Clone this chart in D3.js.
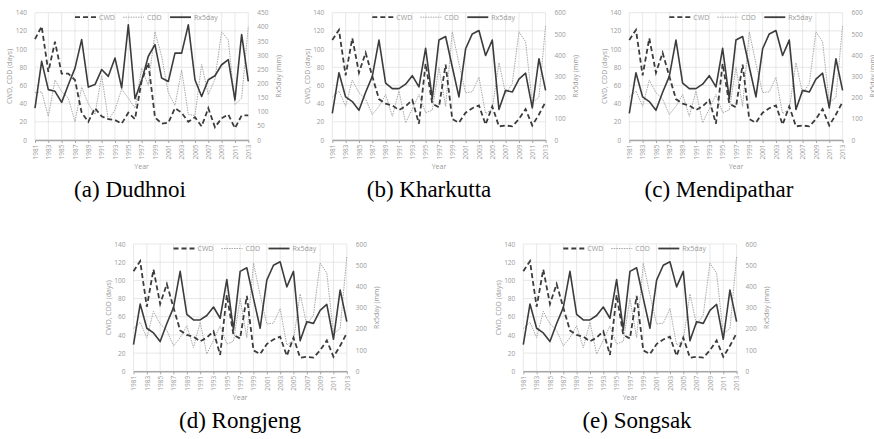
<!DOCTYPE html>
<html>
<head>
<meta charset="utf-8">
<script src="https://cdn.jsdelivr.net/npm/d3@7"></script>
<style>
  body { margin: 0; background: #fff; }
  svg { display: block; }
</style>
</head>
<body>
<script>
// categories
const years = [1981, 1982, 1983, 1984, 1985, 1986, 1987, 1988, 1989, 1990, 1991,
  1992, 1993, 1994, 1995, 1996, 1997, 1998, 1999, 2000, 2001, 2002, 2003, 2004,
  2005, 2006, 2007, 2008, 2009, 2010, 2011, 2012, 2013];
const yearTicks = [1981, 1983, 1985, 1987, 1989, 1991, 1993, 1995, 1997, 1999,
  2001, 2003, 2005, 2007, 2009, 2011, 2013];
const daysTicks = [0, 20, 40, 60, 80, 100, 120, 140];
const rxTicksA = [0, 50, 100, 150, 200, 250, 300, 350, 400, 450];
const rxTicksB = [0, 100, 200, 300, 400, 500, 600];

// (a) Dudhnoi
const cwdDudhnoi = [111, 125, 75, 108, 73, 73, 66, 30, 20, 35, 26, 23, 22, 18, 30, 23,
  65, 85, 25, 18, 19, 35, 30, 20, 25, 15, 35, 14, 24, 28, 13, 27, 27];
const cddDudhnoi = [52, 53, 26, 66, 53, 46, 20, 58, 40, 28, 71, 22, 33, 56, 46, 35,
  79, 60, 119, 92, 52, 38, 77, 28, 27, 83, 50, 67, 119, 110, 39, 46, 125];
const rxDudhnoi = [113, 278, 178, 172, 133, 195, 254, 355, 187, 196, 249, 225, 290, 184,
  407, 146, 210, 296, 337, 219, 207, 307, 307, 407, 213, 154, 213, 227, 266, 284, 142, 373, 207];

// (b)-(e) the four other stations show the same curves in the figure
const cwdOther = [110, 121, 71, 112, 74, 96, 70, 45, 40, 38, 33, 37, 44, 18, 84, 40,
  36, 83, 23, 19, 30, 35, 38, 17, 37, 15, 16, 15, 23, 34, 16, 28, 42];
const cddOther = [47, 54, 37, 66, 52, 45, 28, 37, 50, 26, 54, 19, 34, 50, 30, 33,
  80, 37, 119, 84, 52, 53, 69, 29, 34, 85, 51, 62, 119, 108, 41, 47, 126];
const rxOther = [126, 317, 203, 181, 140, 225, 300, 471, 268, 242, 242, 263, 303, 250,
  432, 195, 471, 488, 344, 203, 430, 500, 516, 398, 471, 144, 234, 226, 287, 315, 151, 383, 234];

const W = 874, H = 439;
const plotW = 213.3, plotH = 127.3;
const labelColor = "#9a9a9a";
const lineDark = "#3c3c3c";
const lineLight = "#a8a8a8";
const smallFont = "6.5px 'Open Sans', sans-serif";

const svg = d3.select("body").append("svg")
  .attr("width", W)
  .attr("height", H);

const panels = [
  { x0: 35, top: 12.7, caption: "(a) Dudhnoi", capX: 130, capY: 197,
    cwd: cwdDudhnoi, cdd: cddDudhnoi, rx: rxDudhnoi, rxMax: 450, rxTicks: rxTicksA },
  { x0: 332.3, top: 12.7, caption: "(b) Kharkutta", capX: 429, capY: 197,
    cwd: cwdOther, cdd: cddOther, rx: rxOther, rxMax: 600, rxTicks: rxTicksB },
  { x0: 629.3, top: 12.7, caption: "(c) Mendipathar", capX: 719, capY: 197,
    cwd: cwdOther, cdd: cddOther, rx: rxOther, rxMax: 600, rxTicks: rxTicksB },
  { x0: 133.5, top: 244, caption: "(d) Rongjeng", capX: 240, capY: 428,
    cwd: cwdOther, cdd: cddOther, rx: rxOther, rxMax: 600, rxTicks: rxTicksB },
  { x0: 523.3, top: 244, caption: "(e) Songsak", capX: 637, capY: 428,
    cwd: cwdOther, cdd: cddOther, rx: rxOther, rxMax: 600, rxTicks: rxTicksB }
];

panels.forEach(p => drawPanel(p));

function drawPanel(p) {
  const g = svg.append("g")
    .attr("transform", `translate(${p.x0}, ${p.top})`);

  const xScale = d3.scaleLinear([years[0], years[years.length - 1]], [0, plotW]);
  const yLeft = d3.scaleLinear([0, 140], [plotH, 0]);
  const yRight = d3.scaleLinear([0, p.rxMax], [plotH, 0]);

  // grid
  g.append("g")
    .selectAll("line")
    .data(daysTicks)
    .join("line")
    .attr("x1", 0).attr("x2", plotW)
    .attr("y1", d => yLeft(d)).attr("y2", d => yLeft(d))
    .attr("stroke", "#dedede")
    .attr("stroke-width", 0.7);
  g.append("g")
    .selectAll("line")
    .data(yearTicks)
    .join("line")
    .attr("x1", d => xScale(d)).attr("x2", d => xScale(d))
    .attr("y1", 0).attr("y2", plotH)
    .attr("stroke", "#dedede")
    .attr("stroke-width", 0.7);

  // x axis
  const xAxis = g.append("g")
    .attr("transform", `translate(0, ${plotH})`)
    .call(d3.axisBottom(xScale).tickValues(yearTicks).tickFormat(d3.format("d"))
      .tickSize(3).tickSizeOuter(0));
  xAxis.select(".domain").attr("stroke", "#a6a6a6").attr("stroke-width", 1.6);
  xAxis.selectAll(".tick line").attr("stroke", "#a6a6a6");
  xAxis.selectAll("text")
    .attr("transform", "rotate(-90)")
    .attr("text-anchor", "end")
    .attr("x", -4.5)
    .attr("y", 0)
    .attr("dy", "0.35em")
    .attr("fill", labelColor)
    .style("font", smallFont);

  // left axis
  const lAxis = g.append("g")
    .call(d3.axisLeft(yLeft).tickValues(daysTicks).tickSize(0).tickPadding(8));
  lAxis.select(".domain").remove();
  lAxis.selectAll("text")
    .attr("fill", labelColor)
    .style("font", smallFont);

  // right axis
  const rAxis = g.append("g")
    .attr("transform", `translate(${plotW}, 0)`)
    .call(d3.axisRight(yRight).tickValues(p.rxTicks).tickSize(0).tickPadding(9));
  rAxis.select(".domain").remove();
  rAxis.selectAll("text")
    .attr("fill", labelColor)
    .style("font", smallFont);

  // axis titles
  g.append("text")
    .attr("transform", `translate(-25, ${plotH / 2}) rotate(-90)`)
    .attr("text-anchor", "middle")
    .attr("dy", "0.35em")
    .attr("fill", labelColor)
    .style("font", "7px 'Open Sans', sans-serif")
    .text("CWD, CDD (days)");
  g.append("text")
    .attr("transform", `translate(${plotW + 30}, ${plotH / 2}) rotate(-90)`)
    .attr("text-anchor", "middle")
    .attr("dy", "0.35em")
    .attr("fill", labelColor)
    .style("font", "7px 'Open Sans', sans-serif")
    .text("Rx5day (mm)");
  g.append("text")
    .attr("x", plotW / 2)
    .attr("y", plotH + 29)
    .attr("text-anchor", "middle")
    .attr("fill", labelColor)
    .style("font", "7px 'Open Sans', sans-serif")
    .text("Year");

  // series
  const leftLine = d3.line()
    .x((d, i) => xScale(years[i]))
    .y(d => yLeft(d));
  const rightLine = d3.line()
    .x((d, i) => xScale(years[i]))
    .y(d => yRight(d));

  g.append("path")
    .datum(p.cdd)
    .attr("fill", "none")
    .attr("stroke", lineLight)
    .attr("stroke-width", 1)
    .style("stroke-dasharray", "1.5, 1")
    .attr("d", leftLine);
  g.append("path")
    .datum(p.rx)
    .attr("fill", "none")
    .attr("stroke", lineDark)
    .attr("stroke-width", 1.6)
    .attr("stroke-linejoin", "round")
    .attr("d", rightLine);
  g.append("path")
    .datum(p.cwd)
    .attr("fill", "none")
    .attr("stroke", lineDark)
    .attr("stroke-width", 1.8)
    .style("stroke-dasharray", "5, 3")
    .attr("d", leftLine);

  // legend
  const legend = [
    { name: "CWD", color: lineDark, width: 1.8, dash: "5, 3", x: 40 },
    { name: "CDD", color: lineLight, width: 1, dash: "1.5, 1", x: 88 },
    { name: "Rx5day", color: lineDark, width: 1.8, dash: null, x: 135 }
  ];
  const lg = g.append("g").attr("transform", "translate(0, 4.5)");
  legend.forEach(l => {
    lg.append("line")
      .attr("x1", l.x).attr("x2", l.x + 21)
      .attr("y1", 0).attr("y2", 0)
      .attr("stroke", l.color)
      .attr("stroke-width", l.width)
      .style("stroke-dasharray", l.dash);
    lg.append("text")
      .attr("x", l.x + 24)
      .attr("y", 0)
      .attr("dy", "0.35em")
      .attr("fill", labelColor)
      .style("font", "7px 'Open Sans', sans-serif")
      .text(l.name);
  });

  // caption
  svg.append("text")
    .attr("x", p.capX)
    .attr("y", p.capY)
    .attr("text-anchor", "middle")
    .attr("fill", "#000")
    .style("font", "23px 'Liberation Serif', 'DejaVu Serif', serif")
    .text(p.caption);
}
</script>
</body>
</html>
